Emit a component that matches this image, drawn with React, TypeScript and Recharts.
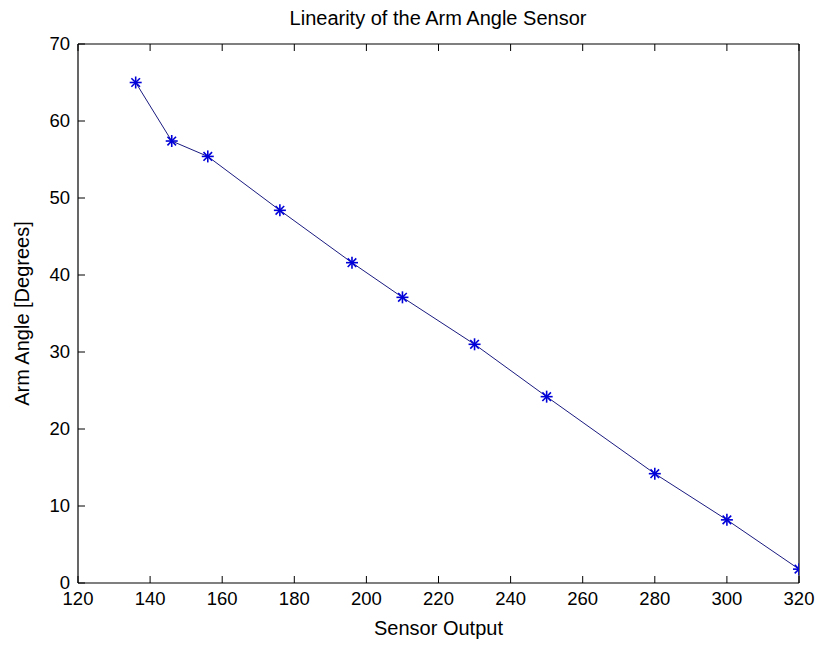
import { LineChart, Line, XAxis, YAxis } from 'recharts'

const sensorOutput = [136, 146, 156, 176, 196, 210, 230, 250, 280, 300, 320]
const armAngle = [65.0, 57.4, 55.4, 48.4, 41.6, 37.1, 31.0, 24.2, 14.2, 8.2, 1.8]
const xTicks = [120, 140, 160, 180, 200, 220, 240, 260, 280, 300, 320]
const yTicks = [0, 10, 20, 30, 40, 50, 60, 70]

const data = sensorOutput.map((x, i) => ({ x, y: armAngle[i] }))

const FAMILY = 'Liberation Sans, Arial, sans-serif'
const labelFont = { fontFamily: FAMILY, fontSize: 20, fill: '#000' }
const TICK = 7
const GAP = 6

// MATLAB style: tick marks point inside the box, labels outside
function BottomTick(props: any) {
    const { x, y, payload } = props
    const axisY = y - GAP
    return (
        <g>
            <line x1={x} y1={axisY} x2={x} y2={axisY - TICK} stroke="#000" />
            <text x={x} y={y + 1} dy="0.8em" textAnchor="middle" fontFamily={FAMILY} fontSize={18.5} fill="#000">
                {payload.value}
            </text>
        </g>
    )
}

function LeftTick(props: any) {
    const { x, y, payload } = props
    const axisX = x + GAP + 2
    return (
        <g>
            <line x1={axisX} y1={y} x2={axisX + TICK} y2={y} stroke="#000" />
            <text x={x} y={y} dy="0.35em" textAnchor="end" fontFamily={FAMILY} fontSize={18.5} fill="#000">
                {payload.value}
            </text>
        </g>
    )
}

function TopTick(props: any) {
    const { x, y } = props
    const axisY = y + GAP
    return <line x1={x} y1={axisY} x2={x} y2={axisY + TICK} stroke="#000" />
}

function RightTick(props: any) {
    const { x, y } = props
    const axisX = x - GAP
    return <line x1={axisX} y1={y} x2={axisX - TICK} y2={y} stroke="#000" />
}

function Star(props: any) {
    const { cx, cy, index } = props
    if (cx == null || cy == null) return null
    const a = 6
    const d = 4.3
    return (
        <g key={index} stroke="#0000d8" strokeWidth={1.6}>
            <line x1={cx - a} y1={cy} x2={cx + a} y2={cy} />
            <line x1={cx} y1={cy - a} x2={cx} y2={cy + a} />
            <line x1={cx - d} y1={cy - d} x2={cx + d} y2={cy + d} />
            <line x1={cx - d} y1={cy + d} x2={cx + d} y2={cy - d} />
        </g>
    )
}

export default function App() {
    return (
        <div style={{ position: 'absolute', left: 0, top: 0, width: 817, height: 666, background: '#fff' }}>
            <div style={{ position: 'absolute', top: 6, left: 38, width: 800, textAlign: 'center', fontFamily: FAMILY, fontSize: 20, lineHeight: '24px' }}>
                Linearity of the Arm Angle Sensor
            </div>
            <LineChart width={817} height={666} data={data} margin={{ top: 43, right: 17, bottom: 0, left: 0 }}>
                <XAxis
                    dataKey="x"
                    type="number"
                    domain={[120, 320]}
                    ticks={xTicks}
                    interval={0}
                    allowDataOverflow
                    height={83}
                    tickSize={0}
                    tickMargin={GAP}
                    axisLine={{ stroke: '#000', strokeWidth: 1.2 }}
                    tickLine={false}
                    tick={BottomTick}
                    label={{ value: 'Sensor Output', position: 'insideBottom', offset: 31, style: labelFont }}
                />
                <XAxis
                    xAxisId="top"
                    orientation="top"
                    dataKey="x"
                    type="number"
                    domain={[120, 320]}
                    ticks={xTicks}
                    interval={0}
                    height={1}
                    tickSize={0}
                    tickMargin={GAP}
                    axisLine={{ stroke: '#000', strokeWidth: 1.2 }}
                    tickLine={false}
                    tick={TopTick}
                />
                <YAxis
                    type="number"
                    domain={[0, 70]}
                    ticks={yTicks}
                    interval={0}
                    width={78}
                    tickSize={0}
                    tickMargin={GAP + 2}
                    axisLine={{ stroke: '#000', strokeWidth: 1.2 }}
                    tickLine={false}
                    tick={LeftTick}
                    label={{ value: 'Arm Angle [Degrees]', angle: -90, position: 'insideLeft', offset: 22, style: { ...labelFont, textAnchor: 'middle' } }}
                />
                <YAxis
                    yAxisId="right"
                    orientation="right"
                    type="number"
                    domain={[0, 70]}
                    ticks={yTicks}
                    interval={0}
                    width={1}
                    tickSize={0}
                    tickMargin={GAP}
                    axisLine={{ stroke: '#000', strokeWidth: 1.2 }}
                    tickLine={false}
                    tick={RightTick}
                />
                <Line
                    dataKey="y"
                    type="linear"
                    stroke="#1a1a80"
                    strokeWidth={1}
                    dot={Star}
                    activeDot={false}
                    isAnimationActive={false}
                />
            </LineChart>
        </div>
    )
}
